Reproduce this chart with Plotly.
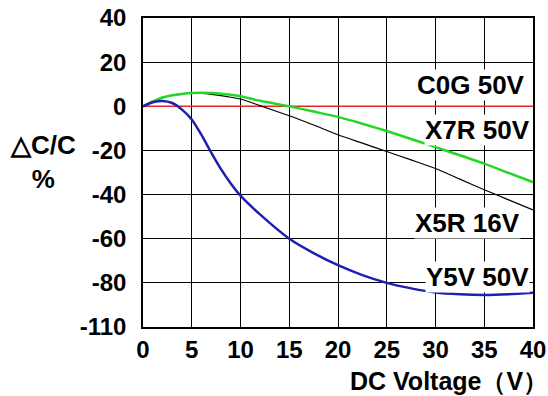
import plotly.graph_objects as go

voltage = [0, 1, 2, 3, 4, 5, 6, 7, 8, 9, 10, 12, 15, 17.5, 20, 22.5, 25, 27.5, 30, 32.5, 35, 37.5, 40]
c0g_50v = [0] * len(voltage)
x7r_50v = [0, 2.2, 4.0, 5.0, 5.6, 6.0, 6.1, 6.0, 5.7, 5.2, 4.5, 2.5, 0, -2.4, -4.8, -7.9, -11.2, -14.8, -18.5, -22.2, -26, -30.2, -34.4]
x5r_16v = [0, 2.0, 3.8, 5.0, 5.7, 6.0, 5.8, 5.4, 4.8, 4.1, 3.3, 0.3, -4.3, -8.5, -12.9, -16.7, -20.5, -24.3, -28.2, -33, -37.8, -42.4, -47]
y5v_50v = [0, 1.8, 2.4, 1.5, -1.5, -6, -13, -21, -28.5, -35, -40.5, -49, -60, -66.5, -72, -76.5, -80, -82.5, -84.4, -85.2, -85.5, -85.2, -84.5]

x_ticks = [0, 5, 10, 15, 20, 25, 30, 35, 40]
y_tickvals = [40, 20, 0, -20, -40, -60, -80, -100]
y_ticktext = ["40", "20", "0", "-20", "-40", "-60", "-80", "-110"]

series_labels = ["C0G 50V", "X7R 50V", "X5R 16V", "Y5V 50V"]
label_x = [33.6, 34.3, 33.3, 34.3]
label_y = [9.5, -10.9, -53, -77.3]

FONT = "Liberation Sans, Arial, sans-serif"

fig = go.Figure()
fig.add_trace(go.Scatter(x=voltage, y=c0g_50v, mode="lines", line=dict(color="#e62828", width=1.5)))
fig.add_trace(go.Scatter(x=voltage, y=x5r_16v, mode="lines", line=dict(color="black", width=1.2, shape="spline", smoothing=0.6)))
fig.add_trace(go.Scatter(x=voltage, y=x7r_50v, mode="lines", line=dict(color="#22d822", width=2.5, shape="spline", smoothing=0.6)))
fig.add_trace(go.Scatter(x=voltage, y=y5v_50v, mode="lines", line=dict(color="#1f1fb4", width=2.5, shape="spline", smoothing=0.6)))

for t, xx, yy in zip(series_labels, label_x, label_y):
    fig.add_annotation(x=xx, y=yy, xref="x", yref="y", text=t, showarrow=False,
                       xanchor="center", yanchor="middle",
                       font=dict(family=FONT, size=26, color="black", weight="bold"),
                       bgcolor="white", borderpad=0)

fig.add_annotation(x=-0.256, y=0.534, xref="paper", yref="paper", text="△C/C<br>%",
                   xanchor="center", yanchor="middle",
                   showarrow=False, font=dict(family=FONT, size=26, color="black", weight="bold"))
fig.add_annotation(x=1.043, y=-0.175, xref="paper", yref="paper", text="DC Voltage（V）",
                   xanchor="right", yanchor="middle", showarrow=False,
                   font=dict(family=FONT, size=25, color="black", weight="bold"))

fig.update_layout(
    width=548, height=396,
    margin=dict(l=143, r=15, t=18, b=69, autoexpand=False),
    paper_bgcolor="white", plot_bgcolor="white",
    showlegend=False,
)
fig.update_xaxes(range=[0, 40], tickvals=x_ticks, showgrid=True, gridcolor="black", gridwidth=1.2,
                 zeroline=False, showline=True, linecolor="black", linewidth=1.5, mirror=True,
                 ticks="", ticklabelstandoff=0, automargin=False, ticklabeloverflow="allow",
                 tickfont=dict(family=FONT, size=24, color="black", weight="bold"))
fig.update_yaxes(range=[-100, 40], tickvals=y_tickvals, ticktext=y_ticktext, showgrid=True,
                 gridcolor="black", gridwidth=1.2, zeroline=False, showline=True, linecolor="black",
                 linewidth=1.5, mirror=True, ticks="", ticklabelstandoff=10, automargin=False,
                 ticklabeloverflow="allow",
                 tickfont=dict(family=FONT, size=24, color="black", weight="bold"))

fig.write_html("out.html", config={"displayModeBar": False},
               post_script="document.body.style.margin='0';document.body.style.overflow='hidden';")
